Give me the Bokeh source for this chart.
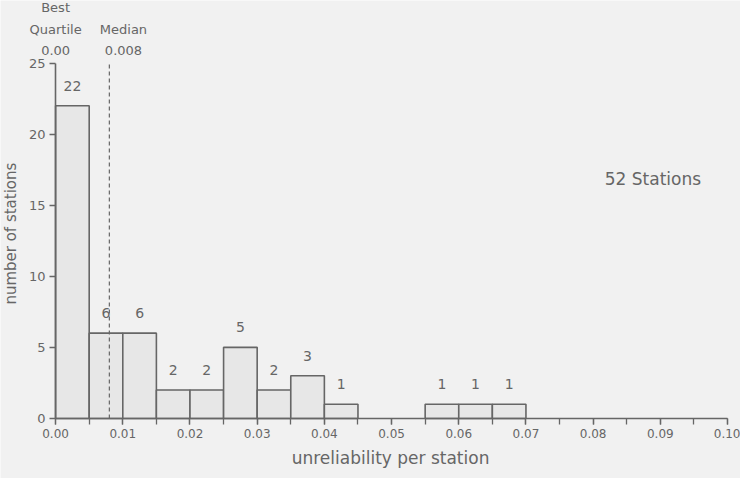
import math
from bokeh.plotting import figure
from bokeh.models import Range1d, ColumnDataSource, Label, FixedTicker, LabelSet, NumeralTickFormatter
from bokeh.core.properties import value
from bokeh.embed import file_html
from bokeh.resources import INLINE

# Data
bin_left = [0.000, 0.005, 0.010, 0.015, 0.020, 0.025, 0.030, 0.035, 0.040, 0.045, 0.050, 0.055, 0.060, 0.065]
bin_width = 0.005
counts = [22, 6, 6, 2, 2, 5, 2, 3, 1, 0, 0, 1, 1, 1]
x_ticks = [0.00, 0.01, 0.02, 0.03, 0.04, 0.05, 0.06, 0.07, 0.08, 0.09, 0.10]
y_ticks = [0, 5, 10, 15, 20, 25]
median_value = 0.008
best_quartile = 0.00
n_stations = 52

BG = "#f1f1f1"
INK = "#666666"
FONT = "DejaVu Sans"

p = figure(width=740, height=478, output_backend="svg", toolbar_location=None,
           x_range=Range1d(-0.0082, 0.10193), y_range=Range1d(-4.225, 29.4),
           min_border_left=0, min_border_right=0, min_border_top=0, min_border_bottom=0)
p.background_fill_color = BG
p.border_fill_color = BG
p.outline_line_color = None
p.grid.visible = False

right = [l + bin_width for l in bin_left]
src = ColumnDataSource(dict(left=[l for l, c in zip(bin_left, counts) if c > 0],
                            right=[r for r, c in zip(right, counts) if c > 0],
                            top=[c for c in counts if c > 0],
                            mid=[l + bin_width / 2 for l, c in zip(bin_left, counts) if c > 0],
                            lab=[str(c) for c in counts if c > 0]))
p.quad(left="left", right="right", bottom=0, top="top", source=src,
       fill_color="#e7e7e7", line_color=INK, line_width=1.6)

p.add_layout(LabelSet(x="mid", y="top", text="lab", source=src, y_offset=20,
                      text_align="center", text_baseline="middle",
                      text_font=value(FONT), text_font_size="14px", text_color=INK))

# median dashed line
p.segment(x0=[median_value], y0=[0], x1=[median_value], y1=[y_ticks[-1]],
          line_color=INK, line_dash="4 3", line_width=1.2)

# axes
p.xaxis.ticker = FixedTicker(ticks=x_ticks,
                             minor_ticks=[round(0.005 * i, 3) for i in range(21)])
p.xaxis.bounds = (x_ticks[0], x_ticks[-1])
p.xaxis.fixed_location = y_ticks[0]
p.yaxis.ticker = FixedTicker(ticks=y_ticks)
p.yaxis.bounds = (y_ticks[0], y_ticks[-1])
p.yaxis.fixed_location = x_ticks[0]
p.xaxis.formatter = NumeralTickFormatter(format="0.00")
for ax in (p.xaxis[0], p.yaxis[0]):
    ax.axis_line_color = INK
    ax.axis_line_width = 1.6
    ax.major_tick_line_color = INK
    ax.minor_tick_line_color = INK
    ax.major_tick_line_width = 1.3
    ax.minor_tick_line_width = 1.3
    ax.major_label_text_color = INK
    ax.major_label_text_font = FONT
    ax.major_tick_in = 0
    ax.minor_tick_in = 0
p.xaxis.major_label_text_font_size = "12px"
p.yaxis.major_label_text_font_size = "13px"
p.xaxis.major_tick_out = 6
p.xaxis.minor_tick_out = 6
p.yaxis.major_tick_out = 6
p.yaxis.minor_tick_line_color = None
p.yaxis.major_label_standoff = 4

# axis titles
p.add_layout(Label(x=(x_ticks[0] + x_ticks[-1]) / 2 - 0.00015, y=-2.75, text="unreliability per station",
                   text_align="center", text_baseline="middle",
                   text_font=FONT, text_font_size="17px", text_color=INK))
p.add_layout(Label(x=-0.0067, y=13.0, text="number of stations", angle=math.pi / 2,
                   text_align="center", text_baseline="middle",
                   text_font=FONT, text_font_size="15px", text_color=INK))

# top annotations
for txt, xv, yv in [("Best", best_quartile, 28.9), ("Quartile", best_quartile, 27.35),
                    (f"{best_quartile:.2f}", best_quartile, 25.85),
                    ("Median", 0.0101, 27.35), (f"{median_value:.3f}", 0.0101, 25.85)]:
    p.add_layout(Label(x=xv, y=yv, text=txt, text_align="center", text_baseline="middle",
                       text_font=FONT, text_font_size="13px", text_color=INK))

p.add_layout(Label(x=0.0889, y=16.83, text=f"{n_stations} Stations", text_align="center",
                   text_baseline="middle", text_font=FONT, text_font_size="17px", text_color=INK))

html = file_html(p, INLINE)
html = html.replace("<body>", f"<body style=\"background:{BG}\">", 1)
open("out.html", "w").write(html)
